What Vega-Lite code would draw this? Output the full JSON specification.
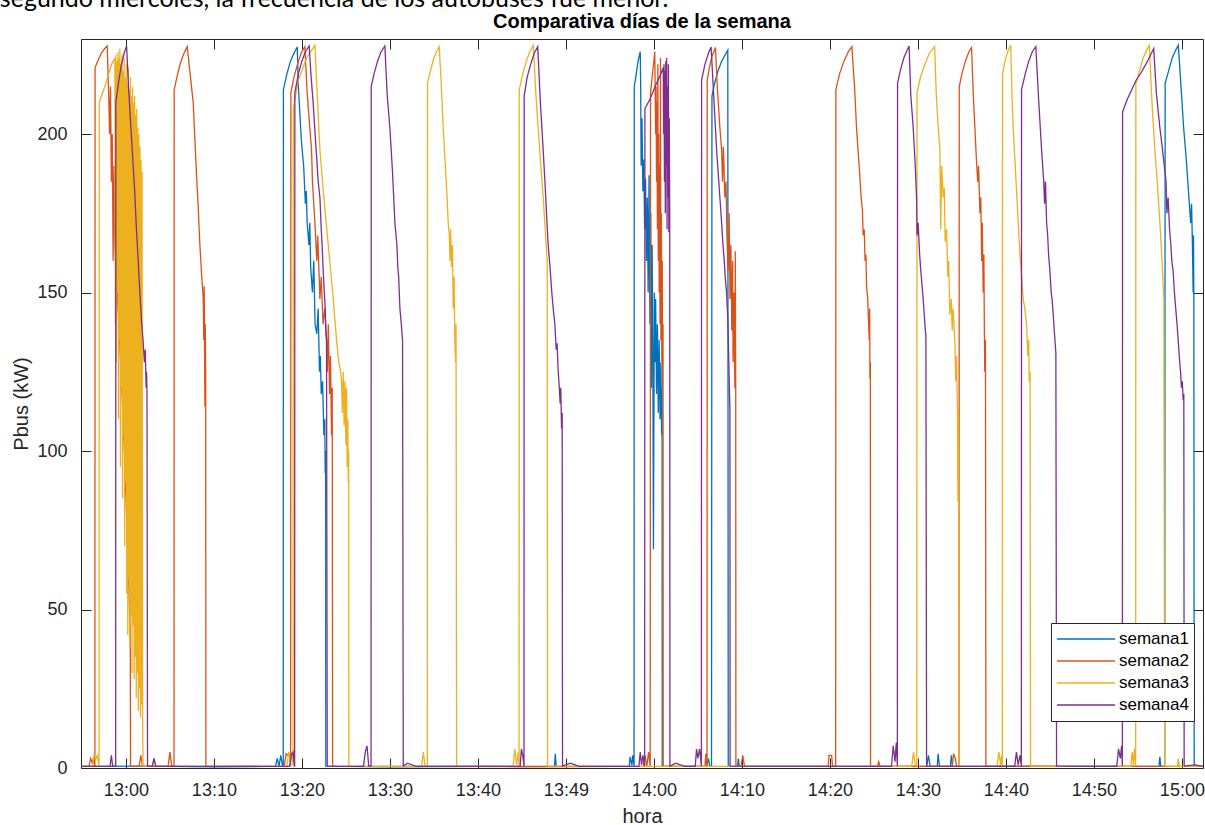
{
"$schema":"https://vega.github.io/schema/vega-lite/v6.json",
"width":1122,"height":729,
"autosize":{"type":"none"},
"padding":{"left":81,"top":39,"right":2,"bottom":57},
"background":"#ffffff",
"config":{"view":{"stroke":"#262626","strokeWidth":1},"font":"Liberation Sans"},
"title":{"text":"Comparativa días de la semana","font":"Liberation Sans","fontSize":20,"fontWeight":"bold","color":"#000000","anchor":"middle","offset":-44.5},
"resolve":{"axis":{"x":"independent","y":"independent"}},
"layer":[
{"data":{"values":[
{"s":"semana1","t":-5.1,"p":0.5},{"s":"semana1","t":2,"p":0.6},{"s":"semana1","t":10,"p":0.4},{"s":"semana1","t":17.0,"p":0.5},{"s":"semana1","t":17.2,"p":3},{"s":"semana1","t":17.4,"p":0.5},{"s":"semana1","t":17.6,"p":4},{"s":"semana1","t":17.8,"p":0.6},{"s":"semana1","t":17.88,"p":0.6},{"s":"semana1","t":17.9,"p":214},{"s":"semana1","t":18.3,"p":219},{"s":"semana1","t":18.7,"p":223},{"s":"semana1","t":19.1,"p":225.5},{"s":"semana1","t":19.47,"p":227.5},{"s":"semana1","t":19.6,"p":215},{"s":"semana1","t":19.9,"p":200},{"s":"semana1","t":20.0,"p":196},{"s":"semana1","t":20.2,"p":190},{"s":"semana1","t":20.4,"p":178},{"s":"semana1","t":20.5,"p":182},{"s":"semana1","t":20.6,"p":172},{"s":"semana1","t":20.8,"p":165},{"s":"semana1","t":20.9,"p":172},{"s":"semana1","t":21.0,"p":158},{"s":"semana1","t":21.2,"p":150},{"s":"semana1","t":21.35,"p":160},{"s":"semana1","t":21.5,"p":140},{"s":"semana1","t":21.7,"p":137},{"s":"semana1","t":21.85,"p":145},{"s":"semana1","t":22.0,"p":125},{"s":"semana1","t":22.1,"p":130},{"s":"semana1","t":22.2,"p":118},{"s":"semana1","t":22.35,"p":122},{"s":"semana1","t":22.5,"p":105},{"s":"semana1","t":22.6,"p":110},{"s":"semana1","t":22.65,"p":93},{"s":"semana1","t":22.7,"p":100},{"s":"semana1","t":22.72,"p":0.6},{"s":"semana1","t":24,"p":0.5},{"s":"semana1","t":30,"p":0.4},{"s":"semana1","t":40,"p":0.5},{"s":"semana1","t":48.7,"p":0.5},{"s":"semana1","t":48.8,"p":4.5},{"s":"semana1","t":48.9,"p":0.5},{"s":"semana1","t":57.2,"p":0.5},{"s":"semana1","t":57.3,"p":3.5},{"s":"semana1","t":57.5,"p":0.8},{"s":"semana1","t":57.6,"p":4},{"s":"semana1","t":57.75,"p":0.6},{"s":"semana1","t":57.77,"p":215},{"s":"semana1","t":58.0,"p":219},{"s":"semana1","t":58.2,"p":223},{"s":"semana1","t":58.45,"p":226},{"s":"semana1","t":58.5,"p":215},{"s":"semana1","t":58.55,"p":190},{"s":"semana1","t":58.65,"p":205},{"s":"semana1","t":58.75,"p":182},{"s":"semana1","t":58.85,"p":192},{"s":"semana1","t":58.95,"p":170},{"s":"semana1","t":59.05,"p":186},{"s":"semana1","t":59.15,"p":160},{"s":"semana1","t":59.25,"p":180},{"s":"semana1","t":59.35,"p":150},{"s":"semana1","t":59.45,"p":187},{"s":"semana1","t":59.55,"p":140},{"s":"semana1","t":59.65,"p":175},{"s":"semana1","t":59.72,"p":120},{"s":"semana1","t":59.8,"p":165},{"s":"semana1","t":59.88,"p":130},{"s":"semana1","t":59.95,"p":69},{"s":"semana1","t":60.05,"p":150},{"s":"semana1","t":60.12,"p":128},{"s":"semana1","t":60.2,"p":148},{"s":"semana1","t":60.3,"p":118},{"s":"semana1","t":60.4,"p":140},{"s":"semana1","t":60.5,"p":112},{"s":"semana1","t":60.6,"p":135},{"s":"semana1","t":60.7,"p":110},{"s":"semana1","t":60.8,"p":128},{"s":"semana1","t":60.88,"p":105},{"s":"semana1","t":60.93,"p":120},{"s":"semana1","t":60.95,"p":0.6},{"s":"semana1","t":63,"p":0.5},{"s":"semana1","t":66.0,"p":0.5},{"s":"semana1","t":66.2,"p":3},{"s":"semana1","t":66.35,"p":0.6},{"s":"semana1","t":66.55,"p":0.6},{"s":"semana1","t":66.6,"p":212},{"s":"semana1","t":66.9,"p":216},{"s":"semana1","t":67.3,"p":220},{"s":"semana1","t":67.7,"p":223},{"s":"semana1","t":68.1,"p":225},{"s":"semana1","t":68.4,"p":226.5},{"s":"semana1","t":68.45,"p":0.6},{"s":"semana1","t":69.5,"p":0.5},{"s":"semana1","t":69.6,"p":3},{"s":"semana1","t":69.7,"p":0.5},{"s":"semana1","t":80,"p":0.5},{"s":"semana1","t":91.0,"p":0.5},{"s":"semana1","t":91.2,"p":4},{"s":"semana1","t":91.4,"p":0.5},{"s":"semana1","t":92.2,"p":0.5},{"s":"semana1","t":92.3,"p":4.5},{"s":"semana1","t":92.45,"p":0.5},{"s":"semana1","t":93.7,"p":0.5},{"s":"semana1","t":93.8,"p":4},{"s":"semana1","t":93.95,"p":0.5},{"s":"semana1","t":105,"p":0.5},{"s":"semana1","t":117.4,"p":0.5},{"s":"semana1","t":117.5,"p":3.5},{"s":"semana1","t":117.6,"p":0.5},{"s":"semana1","t":118.05,"p":0.6},{"s":"semana1","t":118.1,"p":216},{"s":"semana1","t":118.5,"p":220},{"s":"semana1","t":118.9,"p":224},{"s":"semana1","t":119.3,"p":226.5},{"s":"semana1","t":119.6,"p":228},{"s":"semana1","t":119.9,"p":215},{"s":"semana1","t":120.2,"p":202},{"s":"semana1","t":120.5,"p":192},{"s":"semana1","t":120.8,"p":180},{"s":"semana1","t":121.0,"p":172},{"s":"semana1","t":121.1,"p":178},{"s":"semana1","t":121.2,"p":165},{"s":"semana1","t":121.28,"p":150},{"s":"semana1","t":121.32,"p":168},{"s":"semana1","t":121.36,"p":148},{"s":"semana1","t":121.4,"p":0.6},{"s":"semana1","t":122.4,"p":0.5},
{"s":"semana2","t":-5.1,"p":0.5},{"s":"semana2","t":-4.2,"p":0.5},{"s":"semana2","t":-4.0,"p":3},{"s":"semana2","t":-3.8,"p":1.5},{"s":"semana2","t":-3.65,"p":3.5},{"s":"semana2","t":-3.55,"p":0.6},{"s":"semana2","t":-3.52,"p":0.6},{"s":"semana2","t":-3.5,"p":221},{"s":"semana2","t":-3.2,"p":223},{"s":"semana2","t":-2.8,"p":225.5},{"s":"semana2","t":-2.4,"p":227},{"s":"semana2","t":-2.12,"p":227.8},{"s":"semana2","t":-1.95,"p":212},{"s":"semana2","t":-1.85,"p":200},{"s":"semana2","t":-1.75,"p":215},{"s":"semana2","t":-1.65,"p":185},{"s":"semana2","t":-1.55,"p":200},{"s":"semana2","t":-1.45,"p":160},{"s":"semana2","t":-1.35,"p":190},{"s":"semana2","t":-1.25,"p":165},{"s":"semana2","t":-0.8,"p":140},{"s":"semana2","t":-0.3,"p":110},{"s":"semana2","t":0.2,"p":70},{"s":"semana2","t":0.5,"p":42},{"s":"semana2","t":0.53,"p":0.6},{"s":"semana2","t":1.5,"p":0.5},{"s":"semana2","t":1.7,"p":4},{"s":"semana2","t":1.9,"p":0.5},{"s":"semana2","t":4.8,"p":0.5},{"s":"semana2","t":5.0,"p":5},{"s":"semana2","t":5.2,"p":0.8},{"s":"semana2","t":5.47,"p":0.6},{"s":"semana2","t":5.49,"p":214},{"s":"semana2","t":5.8,"p":218},{"s":"semana2","t":6.2,"p":222.5},{"s":"semana2","t":6.6,"p":225.5},{"s":"semana2","t":6.97,"p":227.6},{"s":"semana2","t":7.3,"p":219},{"s":"semana2","t":7.65,"p":210},{"s":"semana2","t":7.85,"p":198},{"s":"semana2","t":8.03,"p":187},{"s":"semana2","t":8.2,"p":178},{"s":"semana2","t":8.41,"p":165},{"s":"semana2","t":8.6,"p":156},{"s":"semana2","t":8.79,"p":148},{"s":"semana2","t":8.85,"p":135},{"s":"semana2","t":8.9,"p":152},{"s":"semana2","t":8.95,"p":128},{"s":"semana2","t":8.98,"p":114},{"s":"semana2","t":9.02,"p":140},{"s":"semana2","t":9.07,"p":125},{"s":"semana2","t":9.09,"p":0.6},{"s":"semana2","t":12,"p":0.5},{"s":"semana2","t":18.0,"p":0.5},{"s":"semana2","t":18.2,"p":4.5},{"s":"semana2","t":18.4,"p":4},{"s":"semana2","t":18.6,"p":4.5},{"s":"semana2","t":18.72,"p":0.6},{"s":"semana2","t":18.75,"p":213},{"s":"semana2","t":19.1,"p":218},{"s":"semana2","t":19.5,"p":222},{"s":"semana2","t":19.9,"p":225.5},{"s":"semana2","t":20.34,"p":227.6},{"s":"semana2","t":20.6,"p":213},{"s":"semana2","t":20.9,"p":202},{"s":"semana2","t":21.1,"p":195},{"s":"semana2","t":21.2,"p":185},{"s":"semana2","t":21.48,"p":172},{"s":"semana2","t":21.7,"p":160},{"s":"semana2","t":21.8,"p":168},{"s":"semana2","t":22.05,"p":148},{"s":"semana2","t":22.2,"p":155},{"s":"semana2","t":22.4,"p":140},{"s":"semana2","t":22.6,"p":145},{"s":"semana2","t":22.8,"p":135},{"s":"semana2","t":22.9,"p":125},{"s":"semana2","t":23.0,"p":140},{"s":"semana2","t":23.15,"p":118},{"s":"semana2","t":23.25,"p":130},{"s":"semana2","t":23.37,"p":105},{"s":"semana2","t":23.45,"p":120},{"s":"semana2","t":23.49,"p":0.6},{"s":"semana2","t":35,"p":0.5},{"s":"semana2","t":45,"p":0.4},{"s":"semana2","t":58.8,"p":0.5},{"s":"semana2","t":59.0,"p":4},{"s":"semana2","t":59.2,"p":0.6},{"s":"semana2","t":59.4,"p":5},{"s":"semana2","t":59.58,"p":0.6},{"s":"semana2","t":59.62,"p":213},{"s":"semana2","t":59.8,"p":218},{"s":"semana2","t":60.0,"p":223},{"s":"semana2","t":60.1,"p":226},{"s":"semana2","t":60.2,"p":200},{"s":"semana2","t":60.25,"p":215},{"s":"semana2","t":60.3,"p":185},{"s":"semana2","t":60.35,"p":210},{"s":"semana2","t":60.4,"p":170},{"s":"semana2","t":60.45,"p":222},{"s":"semana2","t":60.5,"p":160},{"s":"semana2","t":60.55,"p":200},{"s":"semana2","t":60.6,"p":150},{"s":"semana2","t":60.65,"p":190},{"s":"semana2","t":60.7,"p":140},{"s":"semana2","t":60.75,"p":224},{"s":"semana2","t":60.8,"p":135},{"s":"semana2","t":60.85,"p":175},{"s":"semana2","t":60.9,"p":128},{"s":"semana2","t":60.95,"p":160},{"s":"semana2","t":61.0,"p":120},{"s":"semana2","t":61.04,"p":140},{"s":"semana2","t":61.06,"p":0.6},{"s":"semana2","t":63,"p":0.5},{"s":"semana2","t":65.8,"p":0.5},{"s":"semana2","t":65.9,"p":4.5},{"s":"semana2","t":66.0,"p":0.6},{"s":"semana2","t":66.04,"p":0.6},{"s":"semana2","t":66.06,"p":217},{"s":"semana2","t":66.3,"p":221},{"s":"semana2","t":66.6,"p":224.5},{"s":"semana2","t":67.0,"p":227.3},{"s":"semana2","t":67.2,"p":215},{"s":"semana2","t":67.5,"p":202},{"s":"semana2","t":67.7,"p":195},{"s":"semana2","t":67.8,"p":185},{"s":"semana2","t":67.9,"p":196},{"s":"semana2","t":68.07,"p":180},{"s":"semana2","t":68.2,"p":185},{"s":"semana2","t":68.3,"p":168},{"s":"semana2","t":68.44,"p":157},{"s":"semana2","t":68.55,"p":175},{"s":"semana2","t":68.65,"p":148},{"s":"semana2","t":68.75,"p":165},{"s":"semana2","t":68.85,"p":138},{"s":"semana2","t":68.95,"p":160},{"s":"semana2","t":69.0,"p":128},{"s":"semana2","t":69.1,"p":150},{"s":"semana2","t":69.2,"p":120},{"s":"semana2","t":69.25,"p":163},{"s":"semana2","t":69.3,"p":122},{"s":"semana2","t":69.32,"p":0.6},{"s":"semana2","t":69.9,"p":0.5},{"s":"semana2","t":70.1,"p":4},{"s":"semana2","t":70.3,"p":0.5},{"s":"semana2","t":75,"p":0.5},{"s":"semana2","t":79.8,"p":0.5},{"s":"semana2","t":79.9,"p":4},{"s":"semana2","t":80.2,"p":4},{"s":"semana2","t":80.3,"p":0.5},{"s":"semana2","t":80.66,"p":0.6},{"s":"semana2","t":80.68,"p":214},{"s":"semana2","t":81.1,"p":219},{"s":"semana2","t":81.6,"p":223},{"s":"semana2","t":82.1,"p":226},{"s":"semana2","t":82.5,"p":227.6},{"s":"semana2","t":82.8,"p":215},{"s":"semana2","t":83.03,"p":202},{"s":"semana2","t":83.2,"p":195},{"s":"semana2","t":83.4,"p":187},{"s":"semana2","t":83.55,"p":180},{"s":"semana2","t":83.7,"p":176},{"s":"semana2","t":83.78,"p":168},{"s":"semana2","t":83.9,"p":170},{"s":"semana2","t":84.0,"p":160},{"s":"semana2","t":84.1,"p":162},{"s":"semana2","t":84.17,"p":152},{"s":"semana2","t":84.3,"p":148},{"s":"semana2","t":84.4,"p":140},{"s":"semana2","t":84.47,"p":135},{"s":"semana2","t":84.52,"p":145},{"s":"semana2","t":84.55,"p":123},{"s":"semana2","t":84.6,"p":128},{"s":"semana2","t":84.62,"p":0.6},{"s":"semana2","t":85.4,"p":0.5},{"s":"semana2","t":85.55,"p":2},{"s":"semana2","t":85.7,"p":0.5},{"s":"semana2","t":93.9,"p":0.5},{"s":"semana2","t":94.05,"p":4.5},{"s":"semana2","t":94.25,"p":3},{"s":"semana2","t":94.4,"p":0.6},{"s":"semana2","t":94.68,"p":0.6},{"s":"semana2","t":94.7,"p":215},{"s":"semana2","t":95.0,"p":219},{"s":"semana2","t":95.4,"p":223},{"s":"semana2","t":95.8,"p":226},{"s":"semana2","t":96.1,"p":227.3},{"s":"semana2","t":96.3,"p":212},{"s":"semana2","t":96.48,"p":202},{"s":"semana2","t":96.65,"p":192},{"s":"semana2","t":96.8,"p":185},{"s":"semana2","t":96.9,"p":190},{"s":"semana2","t":97.05,"p":175},{"s":"semana2","t":97.15,"p":180},{"s":"semana2","t":97.25,"p":160},{"s":"semana2","t":97.32,"p":172},{"s":"semana2","t":97.42,"p":150},{"s":"semana2","t":97.5,"p":162},{"s":"semana2","t":97.55,"p":140},{"s":"semana2","t":97.6,"p":125},{"s":"semana2","t":97.68,"p":135},{"s":"semana2","t":97.73,"p":0.6},{"s":"semana2","t":110,"p":0.5},{"s":"semana2","t":122.4,"p":0.5},
{"s":"semana3","t":-5.1,"p":0.5},{"s":"semana3","t":-3.8,"p":0.5},{"s":"semana3","t":-3.6,"p":4},{"s":"semana3","t":-3.4,"p":3},{"s":"semana3","t":-3.25,"p":4},{"s":"semana3","t":-3.05,"p":0.6},{"s":"semana3","t":-3.03,"p":210},{"s":"semana3","t":-2.39,"p":215},{"s":"semana3","t":-1.63,"p":222},{"s":"semana3","t":-1.25,"p":224},{"s":"semana3","t":-1.2,"p":140},{"s":"semana3","t":-1.14,"p":225},{"s":"semana3","t":-1.08,"p":128},{"s":"semana3","t":-1.02,"p":223},{"s":"semana3","t":-0.96,"p":150},{"s":"semana3","t":-0.9,"p":226},{"s":"semana3","t":-0.84,"p":110},{"s":"semana3","t":-0.78,"p":224},{"s":"semana3","t":-0.72,"p":135},{"s":"semana3","t":-0.68,"p":227},{"s":"semana3","t":-0.62,"p":95},{"s":"semana3","t":-0.56,"p":222},{"s":"semana3","t":-0.5,"p":120},{"s":"semana3","t":-0.44,"p":225},{"s":"semana3","t":-0.38,"p":85},{"s":"semana3","t":-0.32,"p":220},{"s":"semana3","t":-0.26,"p":105},{"s":"semana3","t":-0.2,"p":224},{"s":"semana3","t":-0.14,"p":70},{"s":"semana3","t":-0.08,"p":218},{"s":"semana3","t":-0.02,"p":90},{"s":"semana3","t":0.04,"p":222},{"s":"semana3","t":0.1,"p":55},{"s":"semana3","t":0.16,"p":216},{"s":"semana3","t":0.22,"p":42},{"s":"semana3","t":0.28,"p":221},{"s":"semana3","t":0.34,"p":60},{"s":"semana3","t":0.4,"p":214},{"s":"semana3","t":0.46,"p":38},{"s":"semana3","t":0.52,"p":218},{"s":"semana3","t":0.58,"p":48},{"s":"semana3","t":0.64,"p":212},{"s":"semana3","t":0.7,"p":30},{"s":"semana3","t":0.76,"p":215},{"s":"semana3","t":0.82,"p":45},{"s":"semana3","t":0.88,"p":210},{"s":"semana3","t":0.94,"p":28},{"s":"semana3","t":1.0,"p":212},{"s":"semana3","t":1.06,"p":35},{"s":"semana3","t":1.12,"p":206},{"s":"semana3","t":1.18,"p":22},{"s":"semana3","t":1.24,"p":208},{"s":"semana3","t":1.3,"p":30},{"s":"semana3","t":1.36,"p":202},{"s":"semana3","t":1.42,"p":18},{"s":"semana3","t":1.48,"p":200},{"s":"semana3","t":1.54,"p":25},{"s":"semana3","t":1.6,"p":196},{"s":"semana3","t":1.66,"p":16},{"s":"semana3","t":1.72,"p":192},{"s":"semana3","t":1.78,"p":20},{"s":"semana3","t":1.84,"p":188},{"s":"semana3","t":1.9,"p":15},{"s":"semana3","t":1.95,"p":0.6},{"s":"semana3","t":3.0,"p":0.5},{"s":"semana3","t":3.2,"p":3},{"s":"semana3","t":3.4,"p":0.5},{"s":"semana3","t":12,"p":0.5},{"s":"semana3","t":18.3,"p":0.5},{"s":"semana3","t":18.5,"p":5},{"s":"semana3","t":18.7,"p":2},{"s":"semana3","t":18.85,"p":5},{"s":"semana3","t":19.0,"p":0.6},{"s":"semana3","t":19.02,"p":208},{"s":"semana3","t":19.6,"p":217},{"s":"semana3","t":20.53,"p":224},{"s":"semana3","t":21.48,"p":228},{"s":"semana3","t":21.7,"p":215},{"s":"semana3","t":22.05,"p":195},{"s":"semana3","t":22.5,"p":180},{"s":"semana3","t":23.0,"p":165},{"s":"semana3","t":23.5,"p":150},{"s":"semana3","t":23.94,"p":135},{"s":"semana3","t":24.2,"p":128},{"s":"semana3","t":24.4,"p":125},{"s":"semana3","t":24.51,"p":122},{"s":"semana3","t":24.6,"p":112},{"s":"semana3","t":24.7,"p":125},{"s":"semana3","t":24.8,"p":108},{"s":"semana3","t":24.9,"p":122},{"s":"semana3","t":25.0,"p":102},{"s":"semana3","t":25.08,"p":120},{"s":"semana3","t":25.15,"p":95},{"s":"semana3","t":25.22,"p":110},{"s":"semana3","t":25.27,"p":90},{"s":"semana3","t":25.32,"p":100},{"s":"semana3","t":25.34,"p":0.6},{"s":"semana3","t":28,"p":0.5},{"s":"semana3","t":33.6,"p":0.5},{"s":"semana3","t":33.8,"p":5},{"s":"semana3","t":34.0,"p":0.6},{"s":"semana3","t":34.26,"p":0.6},{"s":"semana3","t":34.28,"p":216},{"s":"semana3","t":34.6,"p":220},{"s":"semana3","t":35.0,"p":224},{"s":"semana3","t":35.3,"p":226},{"s":"semana3","t":35.6,"p":227.6},{"s":"semana3","t":35.8,"p":218},{"s":"semana3","t":36.06,"p":202},{"s":"semana3","t":36.3,"p":190},{"s":"semana3","t":36.5,"p":180},{"s":"semana3","t":36.63,"p":172},{"s":"semana3","t":36.75,"p":168},{"s":"semana3","t":36.85,"p":160},{"s":"semana3","t":36.9,"p":170},{"s":"semana3","t":37.01,"p":158},{"s":"semana3","t":37.1,"p":165},{"s":"semana3","t":37.2,"p":145},{"s":"semana3","t":37.3,"p":155},{"s":"semana3","t":37.38,"p":135},{"s":"semana3","t":37.47,"p":128},{"s":"semana3","t":37.52,"p":140},{"s":"semana3","t":37.58,"p":0.6},{"s":"semana3","t":40,"p":0.5},{"s":"semana3","t":44.0,"p":0.5},{"s":"semana3","t":44.2,"p":6},{"s":"semana3","t":44.4,"p":1},{"s":"semana3","t":44.6,"p":5},{"s":"semana3","t":44.68,"p":0.6},{"s":"semana3","t":44.7,"p":214},{"s":"semana3","t":45.1,"p":219},{"s":"semana3","t":45.5,"p":223},{"s":"semana3","t":45.9,"p":226},{"s":"semana3","t":46.3,"p":228},{"s":"semana3","t":46.6,"p":212},{"s":"semana3","t":46.85,"p":202},{"s":"semana3","t":47.1,"p":192},{"s":"semana3","t":47.42,"p":180},{"s":"semana3","t":47.65,"p":170},{"s":"semana3","t":47.88,"p":160},{"s":"semana3","t":47.92,"p":0.6},{"s":"semana3","t":60,"p":0.5},{"s":"semana3","t":75,"p":0.5},{"s":"semana3","t":89.3,"p":0.5},{"s":"semana3","t":89.5,"p":5},{"s":"semana3","t":89.7,"p":1},{"s":"semana3","t":89.85,"p":0.6},{"s":"semana3","t":89.88,"p":0.6},{"s":"semana3","t":89.9,"p":213},{"s":"semana3","t":90.3,"p":218},{"s":"semana3","t":90.8,"p":222},{"s":"semana3","t":91.3,"p":225.5},{"s":"semana3","t":91.9,"p":227.6},{"s":"semana3","t":92.1,"p":212},{"s":"semana3","t":92.31,"p":202},{"s":"semana3","t":92.5,"p":195},{"s":"semana3","t":92.6,"p":170},{"s":"semana3","t":92.7,"p":190},{"s":"semana3","t":92.88,"p":180},{"s":"semana3","t":93.0,"p":183},{"s":"semana3","t":93.1,"p":166},{"s":"semana3","t":93.26,"p":170},{"s":"semana3","t":93.4,"p":155},{"s":"semana3","t":93.5,"p":160},{"s":"semana3","t":93.64,"p":143},{"s":"semana3","t":93.8,"p":148},{"s":"semana3","t":93.9,"p":138},{"s":"semana3","t":94.0,"p":145},{"s":"semana3","t":94.2,"p":135},{"s":"semana3","t":94.3,"p":122},{"s":"semana3","t":94.4,"p":130},{"s":"semana3","t":94.5,"p":112},{"s":"semana3","t":94.55,"p":84},{"s":"semana3","t":94.6,"p":113},{"s":"semana3","t":94.65,"p":100},{"s":"semana3","t":94.69,"p":0.6},{"s":"semana3","t":96,"p":0.5},{"s":"semana3","t":99.0,"p":0.5},{"s":"semana3","t":99.2,"p":5},{"s":"semana3","t":99.4,"p":1},{"s":"semana3","t":99.5,"p":4},{"s":"semana3","t":99.6,"p":0.6},{"s":"semana3","t":99.62,"p":219},{"s":"semana3","t":99.9,"p":223},{"s":"semana3","t":100.2,"p":226},{"s":"semana3","t":100.55,"p":228},{"s":"semana3","t":100.7,"p":212},{"s":"semana3","t":100.83,"p":202},{"s":"semana3","t":101.1,"p":188},{"s":"semana3","t":101.4,"p":172},{"s":"semana3","t":101.6,"p":162},{"s":"semana3","t":101.8,"p":155},{"s":"semana3","t":101.97,"p":148},{"s":"semana3","t":102.15,"p":145},{"s":"semana3","t":102.35,"p":140},{"s":"semana3","t":102.5,"p":130},{"s":"semana3","t":102.6,"p":135},{"s":"semana3","t":102.65,"p":122},{"s":"semana3","t":102.75,"p":125},{"s":"semana3","t":102.8,"p":0.6},{"s":"semana3","t":108,"p":0.5},{"s":"semana3","t":114.2,"p":0.5},{"s":"semana3","t":114.35,"p":5},{"s":"semana3","t":114.5,"p":0.8},{"s":"semana3","t":114.6,"p":6},{"s":"semana3","t":114.75,"p":0.6},{"s":"semana3","t":114.77,"p":216},{"s":"semana3","t":115.2,"p":220},{"s":"semana3","t":115.6,"p":224},{"s":"semana3","t":116.0,"p":226.5},{"s":"semana3","t":116.3,"p":228},{"s":"semana3","t":116.6,"p":210},{"s":"semana3","t":116.93,"p":195},{"s":"semana3","t":117.2,"p":185},{"s":"semana3","t":117.5,"p":172},{"s":"semana3","t":117.75,"p":160},{"s":"semana3","t":117.95,"p":148},{"s":"semana3","t":118.05,"p":0.6},{"s":"semana3","t":119.5,"p":0.5},{"s":"semana3","t":119.6,"p":3},{"s":"semana3","t":119.7,"p":0.5},{"s":"semana3","t":122.4,"p":0.5},
{"s":"semana4","t":-5.1,"p":0.5},{"s":"semana4","t":-1.8,"p":0.5},{"s":"semana4","t":-1.65,"p":4},{"s":"semana4","t":-1.5,"p":0.6},{"s":"semana4","t":-1.16,"p":0.6},{"s":"semana4","t":-1.14,"p":210},{"s":"semana4","t":-0.8,"p":217},{"s":"semana4","t":-0.5,"p":222},{"s":"semana4","t":-0.2,"p":225.5},{"s":"semana4","t":0.08,"p":227.8},{"s":"semana4","t":0.3,"p":215},{"s":"semana4","t":0.55,"p":203},{"s":"semana4","t":0.83,"p":190},{"s":"semana4","t":1.0,"p":182},{"s":"semana4","t":1.2,"p":170},{"s":"semana4","t":1.4,"p":160},{"s":"semana4","t":1.59,"p":150},{"s":"semana4","t":1.8,"p":140},{"s":"semana4","t":1.95,"p":135},{"s":"semana4","t":2.1,"p":128},{"s":"semana4","t":2.2,"p":132},{"s":"semana4","t":2.3,"p":120},{"s":"semana4","t":2.35,"p":125},{"s":"semana4","t":2.4,"p":118},{"s":"semana4","t":2.46,"p":0.6},{"s":"semana4","t":3.0,"p":0.5},{"s":"semana4","t":3.2,"p":3},{"s":"semana4","t":3.4,"p":0.5},{"s":"semana4","t":12,"p":0.5},{"s":"semana4","t":18.6,"p":0.5},{"s":"semana4","t":18.8,"p":4},{"s":"semana4","t":19.0,"p":5},{"s":"semana4","t":19.15,"p":0.6},{"s":"semana4","t":19.18,"p":0.6},{"s":"semana4","t":19.2,"p":213},{"s":"semana4","t":19.6,"p":219},{"s":"semana4","t":20.0,"p":223},{"s":"semana4","t":20.4,"p":226},{"s":"semana4","t":20.83,"p":227.8},{"s":"semana4","t":21.05,"p":218},{"s":"semana4","t":21.28,"p":210},{"s":"semana4","t":21.5,"p":200},{"s":"semana4","t":21.7,"p":192},{"s":"semana4","t":21.85,"p":185},{"s":"semana4","t":22.05,"p":180},{"s":"semana4","t":22.2,"p":170},{"s":"semana4","t":22.3,"p":165},{"s":"semana4","t":22.42,"p":157},{"s":"semana4","t":22.55,"p":150},{"s":"semana4","t":22.65,"p":145},{"s":"semana4","t":22.72,"p":138},{"s":"semana4","t":22.8,"p":135},{"s":"semana4","t":22.88,"p":0.6},{"s":"semana4","t":24,"p":0.5},{"s":"semana4","t":27.0,"p":0.5},{"s":"semana4","t":27.2,"p":5},{"s":"semana4","t":27.4,"p":7},{"s":"semana4","t":27.6,"p":0.6},{"s":"semana4","t":27.86,"p":0.6},{"s":"semana4","t":27.88,"p":215},{"s":"semana4","t":28.2,"p":219},{"s":"semana4","t":28.6,"p":223},{"s":"semana4","t":29.0,"p":226},{"s":"semana4","t":29.43,"p":227.8},{"s":"semana4","t":29.7,"p":212},{"s":"semana4","t":30.0,"p":202},{"s":"semana4","t":30.3,"p":188},{"s":"semana4","t":30.57,"p":172},{"s":"semana4","t":30.8,"p":165},{"s":"semana4","t":30.9,"p":158},{"s":"semana4","t":31.0,"p":155},{"s":"semana4","t":31.14,"p":145},{"s":"semana4","t":31.3,"p":140},{"s":"semana4","t":31.44,"p":135},{"s":"semana4","t":31.52,"p":0.6},{"s":"semana4","t":32,"p":1.5},{"s":"semana4","t":33,"p":0.5},{"s":"semana4","t":40,"p":0.5},{"s":"semana4","t":44.8,"p":0.5},{"s":"semana4","t":44.95,"p":6},{"s":"semana4","t":45.1,"p":4},{"s":"semana4","t":45.24,"p":0.6},{"s":"semana4","t":45.26,"p":212},{"s":"semana4","t":45.6,"p":218},{"s":"semana4","t":46.0,"p":222},{"s":"semana4","t":46.4,"p":225.5},{"s":"semana4","t":46.8,"p":227.6},{"s":"semana4","t":47.1,"p":210},{"s":"semana4","t":47.42,"p":195},{"s":"semana4","t":47.6,"p":186},{"s":"semana4","t":47.75,"p":178},{"s":"semana4","t":47.85,"p":172},{"s":"semana4","t":47.99,"p":165},{"s":"semana4","t":48.2,"p":158},{"s":"semana4","t":48.4,"p":150},{"s":"semana4","t":48.56,"p":145},{"s":"semana4","t":48.75,"p":140},{"s":"semana4","t":48.9,"p":132},{"s":"semana4","t":49.0,"p":134},{"s":"semana4","t":49.13,"p":125},{"s":"semana4","t":49.25,"p":120},{"s":"semana4","t":49.35,"p":115},{"s":"semana4","t":49.42,"p":120},{"s":"semana4","t":49.51,"p":107},{"s":"semana4","t":49.58,"p":112},{"s":"semana4","t":49.62,"p":0.6},{"s":"semana4","t":50.5,"p":1.5},{"s":"semana4","t":51.5,"p":0.5},{"s":"semana4","t":58.3,"p":0.5},{"s":"semana4","t":58.45,"p":5},{"s":"semana4","t":58.6,"p":1},{"s":"semana4","t":58.75,"p":4},{"s":"semana4","t":58.95,"p":0.6},{"s":"semana4","t":58.98,"p":208},{"s":"semana4","t":59.55,"p":211},{"s":"semana4","t":60.3,"p":216},{"s":"semana4","t":60.8,"p":219},{"s":"semana4","t":61.06,"p":221},{"s":"semana4","t":61.1,"p":200},{"s":"semana4","t":61.15,"p":222},{"s":"semana4","t":61.2,"p":185},{"s":"semana4","t":61.25,"p":220},{"s":"semana4","t":61.3,"p":175},{"s":"semana4","t":61.35,"p":223},{"s":"semana4","t":61.4,"p":190},{"s":"semana4","t":61.45,"p":224},{"s":"semana4","t":61.5,"p":170},{"s":"semana4","t":61.55,"p":215},{"s":"semana4","t":61.6,"p":180},{"s":"semana4","t":61.65,"p":222},{"s":"semana4","t":61.7,"p":169},{"s":"semana4","t":61.75,"p":205},{"s":"semana4","t":61.8,"p":175},{"s":"semana4","t":61.82,"p":0.6},{"s":"semana4","t":62.5,"p":1.5},{"s":"semana4","t":63.5,"p":0.5},{"s":"semana4","t":64.7,"p":0.5},{"s":"semana4","t":64.85,"p":6},{"s":"semana4","t":65.0,"p":3},{"s":"semana4","t":65.2,"p":6},{"s":"semana4","t":65.4,"p":0.6},{"s":"semana4","t":65.42,"p":217},{"s":"semana4","t":65.8,"p":222},{"s":"semana4","t":66.2,"p":225.5},{"s":"semana4","t":66.5,"p":227.5},{"s":"semana4","t":66.8,"p":212},{"s":"semana4","t":67.13,"p":195},{"s":"semana4","t":67.4,"p":184},{"s":"semana4","t":67.55,"p":178},{"s":"semana4","t":67.7,"p":172},{"s":"semana4","t":67.85,"p":165},{"s":"semana4","t":68.0,"p":160},{"s":"semana4","t":68.1,"p":155},{"s":"semana4","t":68.26,"p":150},{"s":"semana4","t":68.4,"p":142},{"s":"semana4","t":68.5,"p":130},{"s":"semana4","t":68.58,"p":120},{"s":"semana4","t":68.64,"p":113},{"s":"semana4","t":68.66,"p":0.6},{"s":"semana4","t":75,"p":0.5},{"s":"semana4","t":87.0,"p":0.5},{"s":"semana4","t":87.2,"p":7},{"s":"semana4","t":87.4,"p":2},{"s":"semana4","t":87.55,"p":8},{"s":"semana4","t":87.67,"p":0.6},{"s":"semana4","t":87.69,"p":216},{"s":"semana4","t":88.0,"p":220},{"s":"semana4","t":88.4,"p":224},{"s":"semana4","t":88.7,"p":226},{"s":"semana4","t":89.0,"p":227.8},{"s":"semana4","t":89.2,"p":212},{"s":"semana4","t":89.47,"p":202},{"s":"semana4","t":89.7,"p":190},{"s":"semana4","t":89.85,"p":180},{"s":"semana4","t":89.9,"p":168},{"s":"semana4","t":90.03,"p":172},{"s":"semana4","t":90.2,"p":162},{"s":"semana4","t":90.3,"p":158},{"s":"semana4","t":90.42,"p":154},{"s":"semana4","t":90.6,"p":148},{"s":"semana4","t":90.75,"p":142},{"s":"semana4","t":90.85,"p":138},{"s":"semana4","t":90.91,"p":137},{"s":"semana4","t":90.99,"p":0.6},{"s":"semana4","t":95,"p":0.5},{"s":"semana4","t":101.0,"p":0.5},{"s":"semana4","t":101.2,"p":5},{"s":"semana4","t":101.4,"p":1},{"s":"semana4","t":101.6,"p":4},{"s":"semana4","t":101.76,"p":0.6},{"s":"semana4","t":101.78,"p":214},{"s":"semana4","t":102.2,"p":219},{"s":"semana4","t":102.6,"p":223},{"s":"semana4","t":103.0,"p":226},{"s":"semana4","t":103.4,"p":227.6},{"s":"semana4","t":103.7,"p":212},{"s":"semana4","t":104.06,"p":195},{"s":"semana4","t":104.3,"p":185},{"s":"semana4","t":104.4,"p":178},{"s":"semana4","t":104.5,"p":185},{"s":"semana4","t":104.63,"p":172},{"s":"semana4","t":104.75,"p":168},{"s":"semana4","t":104.85,"p":162},{"s":"semana4","t":105.0,"p":157},{"s":"semana4","t":105.15,"p":150},{"s":"semana4","t":105.25,"p":148},{"s":"semana4","t":105.38,"p":143},{"s":"semana4","t":105.5,"p":138},{"s":"semana4","t":105.6,"p":134},{"s":"semana4","t":105.68,"p":131},{"s":"semana4","t":105.76,"p":0.6},{"s":"semana4","t":108,"p":0.5},{"s":"semana4","t":112.6,"p":0.5},{"s":"semana4","t":112.8,"p":6},{"s":"semana4","t":113.0,"p":3},{"s":"semana4","t":113.15,"p":7},{"s":"semana4","t":113.24,"p":0.6},{"s":"semana4","t":113.26,"p":207},{"s":"semana4","t":113.8,"p":211},{"s":"semana4","t":114.3,"p":214},{"s":"semana4","t":114.8,"p":217},{"s":"semana4","t":115.4,"p":219.5},{"s":"semana4","t":116.1,"p":223},{"s":"semana4","t":116.8,"p":227},{"s":"semana4","t":117.1,"p":213},{"s":"semana4","t":117.5,"p":202},{"s":"semana4","t":117.8,"p":195},{"s":"semana4","t":118.0,"p":190},{"s":"semana4","t":118.2,"p":185},{"s":"semana4","t":118.3,"p":175},{"s":"semana4","t":118.44,"p":180},{"s":"semana4","t":118.6,"p":170},{"s":"semana4","t":118.75,"p":165},{"s":"semana4","t":118.85,"p":160},{"s":"semana4","t":119.0,"p":157},{"s":"semana4","t":119.15,"p":150},{"s":"semana4","t":119.3,"p":145},{"s":"semana4","t":119.45,"p":140},{"s":"semana4","t":119.58,"p":135},{"s":"semana4","t":119.7,"p":130},{"s":"semana4","t":119.85,"p":125},{"s":"semana4","t":119.95,"p":120},{"s":"semana4","t":120.05,"p":122},{"s":"semana4","t":120.15,"p":116},{"s":"semana4","t":120.22,"p":118},{"s":"semana4","t":120.26,"p":0.6},{"s":"semana4","t":121.5,"p":1},{"s":"semana4","t":122.4,"p":0.5}
]},
"mark":{"type":"line","strokeWidth":1.3,"clip":true},
"encoding":{
"x":{"field":"t","type":"quantitative","scale":{"domain":[-5.1,122.4],"nice":false,"zero":false},
"axis":{"orient":"bottom","title":"hora","values":[0,10,20,30,40,50,60,70,80,90,100,110,120],"labelExpr":"datum.value==50?'13:49':(13+floor(datum.value/60))+':'+(datum.value%60==0?'00':''+(datum.value%60))","grid":false,"domain":false,"tickSize":-10,"tickColor":"#262626","tickWidth":1,"labelFont":"Liberation Sans","labelFontSize":18,"labelColor":"#262626","labelPadding":23,"labelFlush":false,"labelOverlap":false,"labelBound":false,"titleFont":"Liberation Sans","titleFontSize":20,"titleFontWeight":"normal","titleColor":"#262626","titlePadding":7}},
"y":{"field":"p","type":"quantitative","scale":{"domain":[0,230],"nice":false,"zero":true},
"axis":{"orient":"left","title":"Pbus (kW)","values":[0,50,100,150,200],"grid":false,"domain":false,"tickSize":-10,"tickColor":"#262626","tickWidth":1,"labelFont":"Liberation Sans","labelFontSize":18,"labelColor":"#262626","labelPadding":24,"labelFlush":false,"labelOverlap":false,"labelBound":false,"titleFont":"Liberation Sans","titleFontSize":20,"titleFontWeight":"normal","titleColor":"#262626","titlePadding":5}},
"color":{"field":"s","type":"nominal","scale":{"domain":["semana1","semana2","semana3","semana4"],"range":["#0072BD","#D95319","#EDB120","#7E2F8E"]},
"legend":{"title":null,"orient":"none","legendX":970,"legendY":584,"symbolType":"stroke","symbolSize":3364,"symbolStrokeWidth":1.5,"clipHeight":22,"rowPadding":0,"padding":5,"labelOffset":3,"labelFont":"Liberation Sans","labelFontSize":17,"labelColor":"#000000","strokeColor":"#262626","fillColor":"#ffffff"}}
}},
{"data":{"values":[{"txt":"segundo miércoles, la frecuencia de los autobuses fue menor."}]},
"mark":{"type":"text","align":"left","baseline":"alphabetic","font":"Lato","fontSize":25,"color":"#000000"},
"encoding":{"text":{"field":"txt"},
"x":{"datum":-14.32,"type":"quantitative","axis":{"orient":"top","labels":false,"title":null,"domain":false,"grid":false,"tickSize":-10,"tickColor":"#262626","values":[0,10,20,30,40,50,60,70,80,90,100,110,120]}},
"y":{"datum":240,"type":"quantitative","axis":{"orient":"right","labels":false,"title":null,"domain":false,"grid":false,"tickSize":-10,"tickColor":"#262626","values":[0,50,100,150,200]}}}}
]
}
